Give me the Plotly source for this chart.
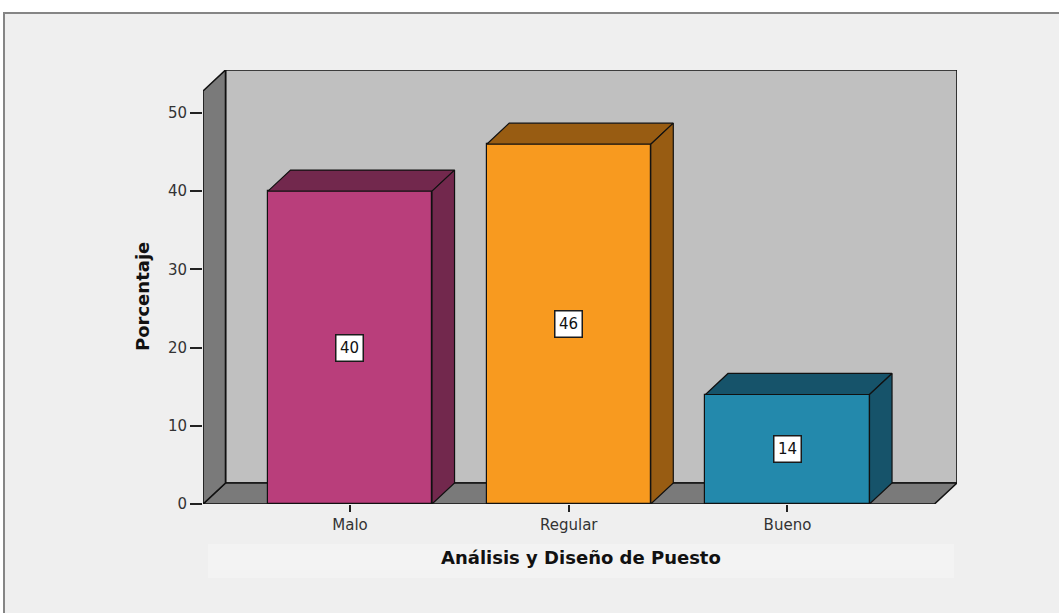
import plotly.graph_objects as go

# Data
categories = ["Malo", "Regular", "Bueno"]
percentages = [40, 46, 14]
front_colors = ["#b93e7b", "#f89a1f", "#2389ac"]
shade_colors = ["#72284d", "#985c12", "#16536a"]
y_ticks = [0, 10, 20, 30, 40, 50]

# 3D frame geometry (data units)
X_LO, X_HI = -0.672, 2.672      # front edge of the floor
DX, DY = 0.103, 2.69            # depth offset of the box
Y_TOP = 52.8                    # front top of the side wall
HALF_W = 0.375                  # half bar width

ML, MR, MT, MB = 203, 102, 70, 109
W, H = 1059, 613
PW, PH = W - ML - MR, H - MT - MB


def px_x(px):
    return (px - ML) / PW


def px_y(py):
    return (H - MB - py) / PH


def poly(pts):
    return "M " + " L ".join(f"{x},{y}" for x, y in pts) + " Z"


fig = go.Figure()

# Front faces of the bars
fig.add_trace(go.Bar(
    x=list(range(len(categories))), y=percentages, width=2 * HALF_W,
    marker=dict(color=front_colors, line=dict(color="#111111", width=1.2)),
    hoverinfo="skip", showlegend=False,
))

# Top and side faces of each bar
for i, (v, c) in enumerate(zip(percentages, shade_colors)):
    top = [(i - HALF_W, v), (i + HALF_W, v), (i + HALF_W + DX, v + DY),
           (i - HALF_W + DX, v + DY), (i - HALF_W, v)]
    side = [(i + HALF_W, 0), (i + HALF_W + DX, DY), (i + HALF_W + DX, v + DY),
            (i + HALF_W, v), (i + HALF_W, 0)]
    for pts in (top, side):
        fig.add_trace(go.Scatter(
            x=[p[0] for p in pts], y=[p[1] for p in pts],
            mode="lines", fill="toself", fillcolor=c,
            line=dict(color="#111111", width=1.2),
            hoverinfo="skip", showlegend=False,
        ))

shapes = [
    # outer chart frame
    dict(type="rect", xref="paper", yref="paper", layer="below",
         x0=px_x(4), x1=px_x(1075), y0=px_y(630), y1=px_y(13),
         fillcolor="#efefef", line=dict(color="#858585", width=2)),
    # lighter strip behind the x title
    dict(type="rect", xref="paper", yref="paper", layer="below",
         x0=px_x(208), x1=px_x(954), y0=px_y(578), y1=px_y(544),
         fillcolor="#f3f3f3", line=dict(width=0)),
    # back wall
    dict(type="path", xref="x", yref="y", layer="below",
         path=poly([(X_LO + DX, DY), (X_HI + DX, DY), (X_HI + DX, Y_TOP + DY),
                    (X_LO + DX, Y_TOP + DY)]),
         fillcolor="#c0c0c0", line=dict(color="#111111", width=1.6)),
    # floor
    dict(type="path", xref="x", yref="y", layer="below",
         path=poly([(X_LO, 0), (X_HI, 0), (X_HI + DX, DY), (X_LO + DX, DY)]),
         fillcolor="#7a7a7a", line=dict(color="#111111", width=1.6)),
    # left side wall
    dict(type="path", xref="x", yref="y", layer="below",
         path=poly([(X_LO, 0), (X_LO, Y_TOP), (X_LO + DX, Y_TOP + DY), (X_LO + DX, DY)]),
         fillcolor="#7a7a7a", line=dict(color="#111111", width=1.6)),
]

annotations = [
    dict(x=i, y=v / 2, xref="x", yref="y", text=str(v), showarrow=False,
         xanchor="center", yanchor="middle",
         font=dict(family="DejaVu Sans", size=15, color="#111111"),
         bgcolor="#ffffff", bordercolor="#1a1a1a", borderwidth=1.5, borderpad=3.5)
    for i, v in enumerate(percentages)
]
annotations += [
    dict(x=px_x(142), y=px_y(297), xref="paper", yref="paper", text="<b>Porcentaje</b>",
         textangle=-90, showarrow=False, xanchor="center", yanchor="middle",
         font=dict(family="DejaVu Sans", size=18, color="#111111")),
    dict(x=px_x(581), y=px_y(557), xref="paper", yref="paper",
         text="<b>Análisis y Diseño de Puesto</b>", showarrow=False,
         xanchor="center", yanchor="middle",
         font=dict(family="DejaVu Sans", size=18, color="#111111")),
]

fig.update_layout(
    width=W, height=H,
    margin=dict(l=ML, r=MR, t=MT, b=MB, pad=0),
    paper_bgcolor="#ffffff", plot_bgcolor="rgba(0,0,0,0)",
    shapes=shapes, annotations=annotations,
    bargap=0, showlegend=False,
    xaxis=dict(range=[X_LO, X_HI + DX], tickvals=list(range(len(categories))),
               ticktext=categories, ticks="outside", ticklen=7, tickwidth=1.5,
               tickcolor="#222222", showgrid=False, zeroline=False, showline=False,
               tickfont=dict(family="DejaVu Sans", size=15, color="#333333"),
               fixedrange=True),
    yaxis=dict(range=[0, Y_TOP + DY], tickvals=y_ticks, ticks="outside", ticklen=12,
               tickwidth=1.5, tickcolor="#222222", showgrid=False, zeroline=False,
               showline=False,
               tickfont=dict(family="DejaVu Sans", size=15, color="#333333"),
               fixedrange=True),
)

fig.write_html("out.html", config={"displayModeBar": False})
